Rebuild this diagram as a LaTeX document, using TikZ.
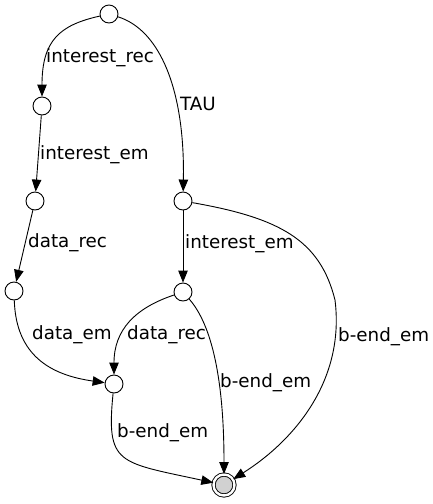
\documentclass[tikz,border=0pt]{standalone}
\usepackage{fontspec}
\setmainfont{DejaVu Sans}
\usetikzlibrary{arrows.meta}

\begin{document}
\begin{tikzpicture}[
  x=1pt, y=-1pt,
  font=\fontsize{18.3}{21}\selectfont,
  state/.style={draw, circle, line width=0.9pt, minimum size=18pt, inner sep=0pt},
  final/.style={state, fill=black!18, minimum size=21pt, double, double distance=2.4pt},
  lbl/.style={anchor=west, inner sep=0pt},
  ar/.style={line width=0.9pt, -{Triangle[length=12pt, width=9.5pt]}}
]
\useasboundingbox (0,0) rectangle (433,504);
% states
\node[state] (init) at (109,14) {};
\node[state] (rec1) at (42,106) {};
\node[state] (em1) at (35,201) {};
\node[state] (rec2) at (14,291) {};
\node[state] (tau) at (183,201) {};
\node[state] (tauem) at (183,292) {};
\node[state] (join) at (114,384) {};
\node[final] (fin) at (224,485) {};
% transitions
\draw[ar] (init) .. controls (60,25) and (42,40) .. (rec1);
\draw[ar] (init) .. controls (160,30) and (185,90) .. (tau);
\draw[ar] (rec1) -- (em1);
\draw[ar] (em1) -- (rec2);
\draw[ar] (rec2) .. controls (16,355) and (50,375) .. (join);
\draw[ar] (tau) -- (tauem);
\draw[ar] (tauem) .. controls (135,308) and (114,330) .. (join);
\draw[ar] (tauem) .. controls (212,325) and (224,380) .. (fin);
\draw[ar] (tau) .. controls (280,218) and (320,240) .. (335,300)
  .. controls (345,380) and (295,440) .. (fin);
\draw[ar] (join) .. controls (106,465) and (118,462) .. (fin);
% labels
\node[lbl] (l1) at (46,58) {interest\_rec};
\node[lbl] (l2) at (180,104) {TAU};
\node[lbl] (l3) at (40,155) {interest\_em};
\node[lbl] (l4) at (28,243) {data\_rec};
\node[lbl] (l5) at (32,335) {data\_em};
\node[lbl] (l6) at (185,244) {interest\_em};
\node[lbl] (l7) at (127,335) {data\_rec};
\node[lbl] (l8) at (338,337) {b-end\_em};
\node[lbl] (l9) at (220,383) {b-end\_em};
\node[lbl] (l10) at (117,433) {b-end\_em};
\end{tikzpicture}
\end{document}
